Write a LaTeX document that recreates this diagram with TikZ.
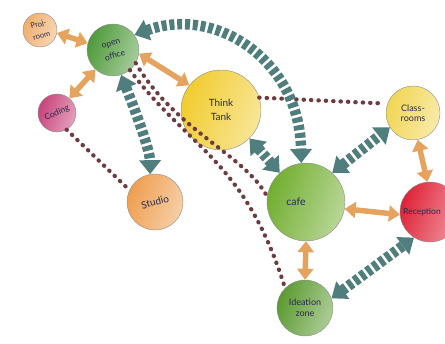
\documentclass[tikz,border=0pt]{standalone}
\usepackage{fontspec}
\setmainfont{Lato}
\usetikzlibrary{arrows.meta}
\definecolor{ink}{HTML}{2B2B4A}
\definecolor{orA}{HTML}{E6A35E}
\definecolor{tealA}{HTML}{4F7E7C}
\definecolor{dotc}{HTML}{6E3C40}
\definecolor{projc}{HTML}{F0AE6C}
\definecolor{openc}{HTML}{4E9A3A}
\definecolor{codc}{HTML}{C8427A}
\definecolor{studc}{HTML}{EF9E4E}
\definecolor{ttc}{HTML}{F1CC2E}
\definecolor{cafec}{HTML}{72AE30}
\definecolor{clc}{HTML}{F1D653}
\definecolor{recc}{HTML}{DE2237}
\definecolor{idc}{HTML}{5B9A30}
\tikzset{
  room/.style={circle, minimum size=#1, inner sep=0pt, draw=black!45, line width=0.4pt},
  wc/.style={left color=#1, right color=#1!50!white, shading angle=70},
  lbl/.style={text=ink, font=\fontsize{8.5}{9}\selectfont, align=center, inner sep=0pt},
  warm/.style={draw=orA, line width=5.5pt, {Triangle[width=16pt,length=11pt]}-{Triangle[width=16pt,length=11pt]}},
  flow/.style={draw=tealA, line width=10.5pt, dash pattern=on 5pt off 2.8pt, {Triangle[width=21pt,length=14pt]}-{Triangle[width=21pt,length=14pt]}},
  dots/.style={draw=dotc, line width=4.2pt, line cap=round, dash pattern=on 0.4pt off 7pt}
}
\begin{document}
\begin{tikzpicture}[x=1pt,y=-1pt]
\useasboundingbox (0,0) rectangle (445,344);
% rooms
\node[room=34pt, wc=projc] (proj) at (40,30) {};
\node[room=52pt, wc=openc] (open) at (113,50) {};
\node[room=38pt, wc=codc] (coding) at (57,113) {};
\node[room=56pt, wc=studc] (studio) at (155,202) {};
\node[room=80pt, wc=ttc] (tt) at (221,110) {};
\node[room=78pt, wc=cafec] (cafe) at (306,202) {};
\node[room=54pt, wc=clc] (class) at (413,113) {};
\node[room=60pt, wc=recc] (rec) at (430,212) {};
\node[room=56pt, wc=idc] (idea) at (305,308) {};
% labels
\node[lbl, rotate=15, font=\fontsize{7.5}{12}\selectfont] (projt) at (proj) {Proj-\\room};
\node[lbl, rotate=18, font=\fontsize{8.5}{13}\selectfont] (opent) at (open) {open\\office};
\node[lbl, rotate=25] (codt) at (coding) {Coding};
\node[lbl, rotate=15, font=\fontsize{10}{11}\selectfont] (studt) at (studio) {Studio};
\node[lbl, font=\fontsize{10}{14}\selectfont] (ttt) at (tt) {Think\\Tank};
\node[lbl, font=\fontsize{10.5}{11}\selectfont] (cafet) at ([xshift=-10pt]cafe.center) {cafe};
\node[lbl, font=\fontsize{9}{10.5}\selectfont] (classt) at (class) {Class-\\rooms};
\node[lbl] (rect) at ([xshift=-8pt]rec.center) {Reception};
\node[lbl, font=\fontsize{9}{11}\selectfont] (ideat) at (idea) {Ideation\\zone};
% dotted links
\draw[dots] (coding.-60) -- (studio.155);
\draw[dots] (open.-30) .. controls (175,130) and (245,155) .. (cafe.172);
\draw[dots] (open.-50) .. controls (190,150) and (245,160) .. (idea.135);
\draw[dots, shorten >=6pt] (tt.18) -- (class.160);
% teal flows
\draw[flow] (open.35) .. controls (215,5) and (300,60) .. (cafe.97);
\draw[flow] (open.-72) .. controls (135,110) and (150,150) .. (studio.100);
\draw[flow] (tt.-45) -- (cafe.132);
\draw[flow] (cafe.48) -- (class.212);
\draw[flow] (idea.20) -- (rec.238);
% orange links
\draw[warm] (proj.-10) -- (open.165);
\draw[warm] (open.228) -- (coding.50);
\draw[warm] (open.-8) -- (tt.142);
\draw[warm] (cafe.-10) -- (rec.185);
\draw[warm] (class.-80) -- (rec.95);
\draw[warm] (cafe.-90) -- (idea.90);
\end{tikzpicture}
\end{document}
